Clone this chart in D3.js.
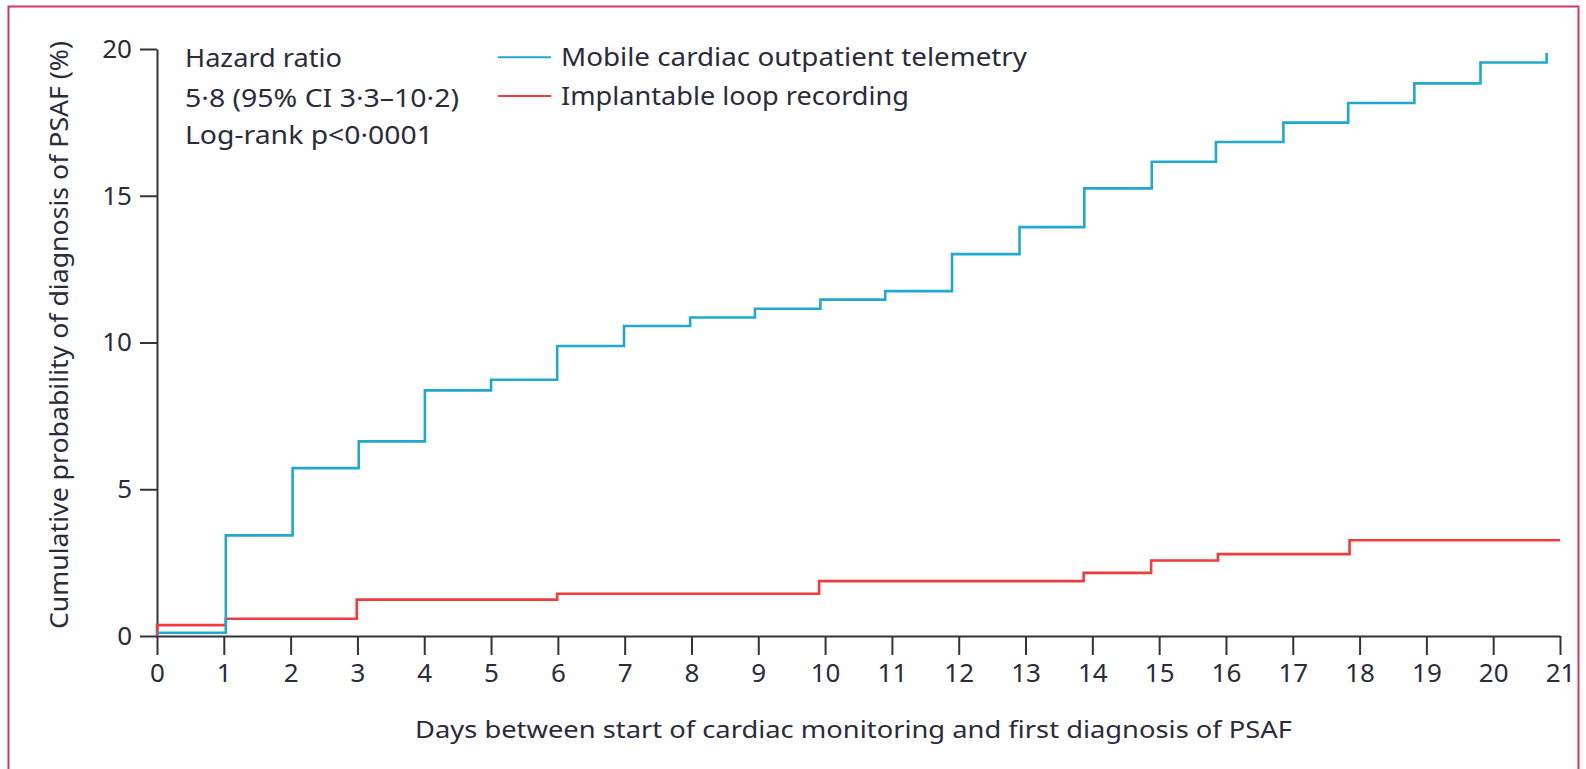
<!DOCTYPE html>
<html>
<head>
<meta charset="utf-8">
<script src="https://cdn.jsdelivr.net/npm/d3@7"></script>
<style>
  html, body { margin: 0; padding: 0; background: #fff; }
  svg { display: block; }
  text { font-family: "Noto Sans", "Open Sans", sans-serif; fill: #2b2b3a; }
</style>
</head>
<body>
<svg id="chart" width="1586" height="769"></svg>
<script>
// ---- data ----
const mcotDays   = [0, 1.03, 2.03, 3.02, 4.01, 5.00, 5.99, 6.99, 7.98, 8.95, 9.93, 10.90, 11.90, 12.91, 13.88, 14.89, 15.85, 16.86, 17.83, 18.82, 19.81, 20.80];
const mcotValues = [0.11, 3.43, 5.72, 6.63, 8.37, 8.73, 9.88, 10.56, 10.85, 11.15, 11.46, 11.75, 13.01, 13.93, 15.25, 16.16, 16.83, 17.49, 18.16, 18.83, 19.54, 19.86];
const ilrDays    = [0, 0, 1.03, 2.99, 5.99, 9.91, 13.87, 14.88, 15.88, 17.85, 21.0];
const ilrValues  = [0, 0.37, 0.59, 1.24, 1.44, 1.87, 2.15, 2.57, 2.79, 3.26, 3.26];
const xTicks = d3.range(0, 22);
const yTicks = [0, 5, 10, 15, 20];
const seriesNames = ["Mobile cardiac outpatient telemetry", "Implantable loop recording"];
const statLines = ["Hazard ratio", "5\u00B78 (95% CI 3\u00B73\u201310\u00B72)", "Log-rank p<0\u00B70001"];
const xTitle = "Days between start of cardiac monitoring and first diagnosis of PSAF";
const yTitle = "Cumulative probability of diagnosis of PSAF (%)";

// ---- layout ----
const svg = d3.select("#chart");
const blue = "#1fa9cc", red = "#f23b3b", axisCol = "#333338";

svg.append("rect").attr("x", 8.5).attr("y", 6.5).attr("width", 1570).attr("height", 820)
  .attr("fill", "none").attr("stroke", "#cc3a63").attr("stroke-width", 2);

const x = d3.scaleLinear().domain([0, 21]).range([157, 1560]);
const y = d3.scaleLinear().domain([0, 20]).range([636, 49]);

// axes
const gx = svg.append("g").attr("transform", `translate(0,${y(0)})`)
  .call(d3.axisBottom(x).tickValues(xTicks).tickFormat(d3.format("d")).tickSize(19).tickSizeOuter(0).tickPadding(9));
const gy = svg.append("g").attr("transform", `translate(${x(0)},0)`)
  .call(d3.axisLeft(y).tickValues(yTicks).tickFormat(d3.format("d")).tickSize(17).tickSizeOuter(0).tickPadding(8));
[gx, gy].forEach(g => {
  g.selectAll("path.domain").attr("stroke", axisCol).attr("stroke-width", 2);
  g.selectAll(".tick line").attr("stroke", axisCol).attr("stroke-width", 2);
  g.selectAll(".tick text").style("font-family", '"Noto Sans", sans-serif').style("font-size", "26px").attr("fill", "#2b2b3a");
});

// curves
const line = d3.line().x(d => x(d[0])).y(d => y(d[1])).curve(d3.curveStepAfter);
const mcot = mcotDays.map((d, i) => [d, mcotValues[i]]);
const ilr = ilrDays.map((d, i) => [d, ilrValues[i]]);
svg.append("path").datum(ilr).attr("d", line).attr("fill", "none").attr("stroke", red).attr("stroke-width", 2.6);
svg.append("path").datum(mcot).attr("d", line).attr("fill", "none").attr("stroke", blue).attr("stroke-width", 2.6);

// stats text
const statY = [66.7, 107, 143.5], statW = [157, 274, 248];
statLines.forEach((t, i) => {
  svg.append("text").attr("x", 185).attr("y", statY[i]).style("font-size", "25px")
    .attr("textLength", statW[i]).attr("lengthAdjust", "spacingAndGlyphs").text(t);
});

// legend
const legY = [57.3, 96], legW = [466, 348], legCol = [blue, red];
seriesNames.forEach((t, i) => {
  svg.append("line").attr("x1", 498).attr("x2", 551).attr("y1", legY[i]).attr("y2", legY[i])
    .attr("stroke", legCol[i]).attr("stroke-width", 2);
  svg.append("text").attr("x", 561).attr("y", legY[i] + 9).style("font-size", "25px")
    .attr("textLength", legW[i]).attr("lengthAdjust", "spacingAndGlyphs").text(t);
});

// axis titles
svg.append("text").attr("x", 415).attr("y", 738).style("font-size", "24px")
  .attr("textLength", 877).attr("lengthAdjust", "spacingAndGlyphs").text(xTitle);
svg.append("text").attr("transform", "translate(68,629) rotate(-90)").style("font-size", "25px")
  .attr("textLength", 588).attr("lengthAdjust", "spacingAndGlyphs").text(yTitle);
</script>
</body>
</html>
